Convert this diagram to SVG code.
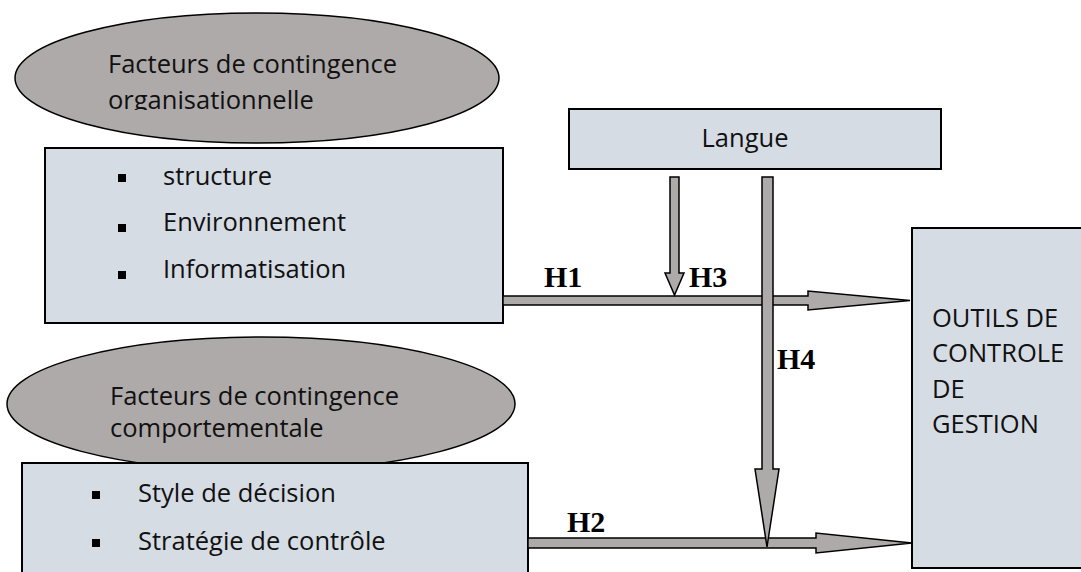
<svg xmlns="http://www.w3.org/2000/svg" width="1081" height="572" viewBox="0 0 1081 572">
<style>
.ell{fill:#aeaaaa;stroke:#000;stroke-width:1.5}
.box{fill:#d6dce4;stroke:#000;stroke-width:2}
.t{font-family:"Open Sans","Noto Sans",sans-serif;font-size:25.5px;fill:#111}
.h{font-family:"Liberation Serif","Times New Roman",serif;font-weight:bold;font-size:30px;fill:#000}
.arr{fill:#aeaaaa;stroke:#000;stroke-width:1.5;stroke-linejoin:miter}
.bul{fill:#000}
</style>
<defs>
<clipPath id="c1"><rect x="0" y="0" width="600" height="110"/></clipPath>
<clipPath id="c2"><rect x="0" y="330" width="600" height="114"/></clipPath>
</defs>
<rect width="1081" height="572" fill="#fff"/>

<g id="ellipse-organisationnelle">
<ellipse class="ell" cx="257" cy="78" rx="242" ry="65"/>
<g clip-path="url(#c1)">
<text class="t" x="108" y="73">Facteurs de contingence</text>
<text class="t" x="108" y="109">organisationnelle</text>
</g>
</g>

<g id="box-organisationnelle">
<rect class="box" x="45" y="148" width="458" height="175"/>
<rect class="bul" x="118" y="174" width="8" height="8"/>
<text class="t" x="163" y="185">structure</text>
<rect class="bul" x="118" y="224" width="8" height="8"/>
<text class="t" x="163" y="231">Environnement</text>
<rect class="bul" x="118" y="271" width="8" height="8"/>
<text class="t" x="163" y="278">Informatisation</text>
</g>

<g id="ellipse-comportementale">
<ellipse class="ell" cx="261" cy="404" rx="254" ry="67"/>
<g clip-path="url(#c2)">
<text class="t" x="110" y="405">Facteurs de contingence</text>
<text class="t" x="110" y="437">comportementale</text>
</g>
</g>

<g id="box-comportementale">
<rect class="box" x="22" y="463" width="506" height="130"/>
<rect class="bul" x="92" y="491" width="8" height="8"/>
<text class="t" x="138" y="502">Style de décision</text>
<rect class="bul" x="92" y="539" width="8" height="8"/>
<text class="t" x="138" y="550">Stratégie de contrôle</text>
</g>

<g id="langue">
<rect class="box" x="569" y="109" width="372" height="60"/>
<text class="t" x="745" y="147" text-anchor="middle">Langue</text>
</g>

<g id="outils">
<rect class="box" x="912" y="228" width="190" height="340"/>
<text class="t" x="932" y="327">OUTILS DE</text>
<text class="t" x="932" y="362">CONTROLE</text>
<text class="t" x="932" y="398">DE</text>
<text class="t" x="932" y="433">GESTION</text>
</g>

<g id="connectors">
<polygon class="arr" points="503,296 808,296 808,291 910,300.5 808,310 808,305 503,305"/>
<polygon class="arr" points="670,177 679,177 679,273 684,273 674.5,295 665,273 670,273"/>
<polygon class="arr" points="528,538 816,538 816,533 912,543 816,553 816,548 528,548"/>
<polygon class="arr" points="762,177 773,177 773,469 779,469 767,547 755,469 762,469"/>
<text class="h" x="544" y="287">H1</text>
<text class="h" x="689" y="287">H3</text>
<text class="h" x="777" y="369">H4</text>
<text class="h" x="567" y="532">H2</text>
</g>
</svg>
